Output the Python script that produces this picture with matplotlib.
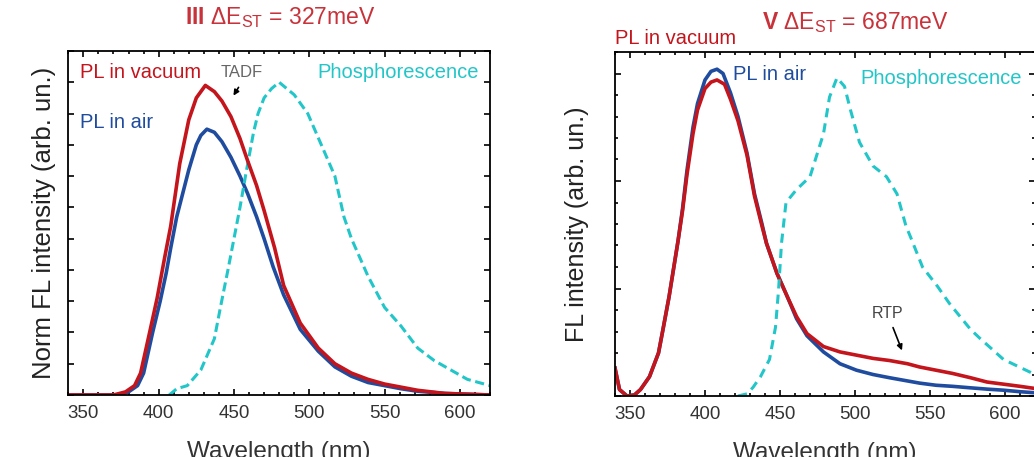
import matplotlib.pyplot as plt
from matplotlib.ticker import MultipleLocator, NullFormatter

plt.rcParams['font.family'] = ['Liberation Sans', 'DejaVu Sans']
plt.rcParams['mathtext.fontset'] = 'custom'
plt.rcParams['mathtext.rm'] = 'Liberation Sans'
plt.rcParams['mathtext.bf'] = 'Liberation Sans:bold'

# ---- compound III (left panel), normalised spectra ----
wl_vac_III = [340, 370, 378, 384, 388, 394, 399, 404, 408, 414, 420, 425, 431, 437, 442, 448, 454, 459, 465,
              470, 477, 483, 494, 506, 517, 528, 539, 550, 561, 572, 590, 620]
vac_III = [0, 0, 0.01, 0.03, 0.07, 0.2, 0.31, 0.44, 0.54, 0.74, 0.88, 0.95, 0.99, 0.97, 0.94, 0.89, 0.82, 0.75,
           0.67, 0.59, 0.47, 0.35, 0.23, 0.15, 0.1, 0.07, 0.05, 0.035, 0.025, 0.015, 0.005, 0]

wl_air_III = [340, 372, 380, 386, 390, 396, 401, 405, 408, 412, 416, 420, 425, 428, 432, 437, 442, 448, 454,
              459, 465, 470, 476, 483, 494, 506, 517, 528, 539, 550, 561, 572, 590, 620]
air_III = [0, 0, 0.01, 0.03, 0.07, 0.2, 0.3, 0.39, 0.47, 0.57, 0.645, 0.72, 0.8, 0.83, 0.85, 0.84, 0.81, 0.76,
           0.7, 0.645, 0.57, 0.5, 0.41, 0.32, 0.21, 0.14, 0.09, 0.06, 0.04, 0.03, 0.02, 0.012, 0.005, 0]

wl_phos_III = [407, 412, 419, 428, 437, 441, 446, 450, 454, 458, 463, 466, 470, 475, 480, 490, 499, 508, 517,
               523, 528, 539, 550, 561, 572, 583, 594, 605, 620]
phos_III = [0, 0.02, 0.03, 0.08, 0.18, 0.28, 0.4, 0.5, 0.6, 0.71, 0.84, 0.9, 0.95, 0.98, 1.0, 0.96, 0.9, 0.8,
            0.7, 0.57, 0.5, 0.38, 0.28, 0.22, 0.15, 0.11, 0.08, 0.05, 0.03]

# ---- compound V (right panel) ----
wl_vac_V = [340, 343, 348, 353, 357, 363, 369, 372, 376, 379, 382, 385, 388, 392, 395, 400, 404, 408, 413, 417,
            422, 428, 433, 438, 441, 448, 455, 461, 468, 479, 490, 501, 512, 523, 535, 543, 554, 565, 577, 588,
            599, 610, 620]
vac_V = [0.13, 0.03, 0.0, 0.005, 0.03, 0.09, 0.2, 0.31, 0.46, 0.59, 0.72, 0.86, 1.03, 1.22, 1.33, 1.43, 1.46,
         1.47, 1.45, 1.38, 1.28, 1.12, 0.93, 0.79, 0.71, 0.57, 0.46, 0.37, 0.29, 0.23, 0.205, 0.19, 0.175, 0.165,
         0.15, 0.135, 0.12, 0.105, 0.085, 0.065, 0.055, 0.045, 0.035]

wl_air_V = [340, 343, 348, 353, 357, 363, 369, 372, 376, 379, 382, 385, 388, 392, 395, 400, 404, 408, 412, 417,
            422, 428, 433, 438, 441, 448, 455, 461, 468, 479, 490, 501, 512, 523, 535, 543, 554, 565, 577, 588,
            599, 610, 620]
air_V = [0.13, 0.03, 0.0, 0.005, 0.03, 0.09, 0.2, 0.31, 0.46, 0.59, 0.72, 0.87, 1.05, 1.25, 1.36, 1.47, 1.51,
         1.52, 1.5, 1.41, 1.3, 1.13, 0.94, 0.8, 0.71, 0.57, 0.46, 0.36, 0.28, 0.205, 0.15, 0.12, 0.1, 0.085, 0.07,
         0.06, 0.05, 0.045, 0.038, 0.032, 0.027, 0.02, 0.015]

wl_phos_V = [422, 428, 432, 437, 443, 447, 449, 451, 454, 461, 470, 479, 483, 488, 493, 497, 503, 512, 521,
             528, 534, 537, 545, 555, 563, 577, 583, 599, 605, 620]
phos_V = [0, 0.01, 0.04, 0.09, 0.17, 0.32, 0.49, 0.71, 0.9, 0.96, 1.02, 1.22, 1.39, 1.48, 1.44, 1.33, 1.18,
          1.07, 1.02, 0.94, 0.79, 0.74, 0.6, 0.51, 0.43, 0.31, 0.27, 0.17, 0.15, 0.1]

red = '#c4141c'
blue = '#1f4c9e'
cyan = '#22c6c8'
title_red = '#c8323a'

W, H = 1034, 457
fig = plt.figure(figsize=(W / 100, H / 100), dpi=100)


def px_axes(x0, y0, x1, y1):
    # axes box given in pixel coordinates (top-left origin)
    return fig.add_axes([x0 / W, 1 - y1 / H, (x1 - x0) / W, (y1 - y0) / H])


def ftext(x, y, s, **kw):
    fig.text(x / W, 1 - y / H, s, va='center', **kw)


def arrow(x0, y0, x1, y1):
    # small black arrow, pixel coords from top-left
    fig.add_artist(plt.matplotlib.patches.FancyArrowPatch(
        (x0 / W, 1 - y0 / H), (x1 / W, 1 - y1 / H), transform=fig.transFigure,
        arrowstyle='-|>', mutation_scale=8, color='black', lw=1.2))


def style(ax, ymax, ymajor, yminor):
    ax.set_xlim(340, 620)
    ax.set_ylim(0, ymax)
    ax.xaxis.set_major_locator(MultipleLocator(50))
    ax.xaxis.set_minor_locator(MultipleLocator(10))
    ax.yaxis.set_major_locator(MultipleLocator(ymajor))
    ax.yaxis.set_minor_locator(MultipleLocator(yminor))
    ax.yaxis.set_major_formatter(NullFormatter())
    ax.tick_params(which='both', direction='in', top=True, right=True, width=1.2)
    ax.tick_params(which='major', length=4.5, labelsize=13.5, pad=7, labelcolor='#333333')
    ax.tick_params(which='minor', length=2.5)
    for sp in ax.spines.values():
        sp.set_linewidth(1.3)


# left panel
ax1 = px_axes(68.3, 51, 490, 395)
ax1.plot(wl_air_III, air_III, color=blue, lw=2.6)
ax1.plot(wl_phos_III, phos_III, color=cyan, lw=2.2, linestyle=(0, (3, 1.5)))
ax1.plot(wl_vac_III, vac_III, color=red, lw=2.6)
style(ax1, 1.1, 0.1, 0.1)
ax1.set_ylabel('Norm FL intensity (arb. un.)', fontsize=18.5, color='#222222', labelpad=2)
ax1.set_xlabel('Wavelength (nm)', fontsize=17.5, color='#333333', labelpad=14)

# right panel
ax2 = px_axes(615, 52, 1035, 396)
ax2.plot(wl_air_V, air_V, color=blue, lw=2.6)
ax2.plot(wl_vac_V, vac_V, color=red, lw=2.6)
ax2.plot(wl_phos_V, phos_V, color=cyan, lw=2.2, linestyle=(0, (3, 2)))
style(ax2, 1.6, 0.5, 0.1)
ax2.set_ylabel('FL intensity (arb. un.)', fontsize=18, color='#222222', labelpad=12)
ax2.set_xlabel('Wavelength (nm)', fontsize=17.5, color='#333333', labelpad=14)

# labels and titles
ftext(280, 18, r'$\mathbf{III}$ $\Delta$E$_{\mathrm{ST}}$ = 327meV', ha='center', fontsize=16.5, color=title_red)
ftext(80, 72, 'PL in vacuum', ha='left', fontsize=14.5, color=red)
ftext(221, 72, 'TADF', ha='left', fontsize=12, color='#666666')
ftext(317, 72, 'Phosphorescence', ha='left', fontsize=14.5, color=cyan)
ftext(80, 123, 'PL in air', ha='left', fontsize=14.5, color=blue)
arrow(240, 85, 232, 98)

ftext(855, 23, r'$\mathbf{V}$ $\Delta$E$_{\mathrm{ST}}$ = 687meV', ha='center', fontsize=16.5, color=title_red)
ftext(615, 38, 'PL in vacuum', ha='left', fontsize=14.5, color=red)
ftext(733, 74, 'PL in air', ha='left', fontsize=14.5, color=blue)
ftext(860, 78, 'Phosphorescence', ha='left', fontsize=14.5, color=cyan)
ftext(872, 313, 'RTP', ha='left', fontsize=11.5, color='#444444')
arrow(892, 325, 903, 353)

fig.savefig('out.png', dpi=100)
